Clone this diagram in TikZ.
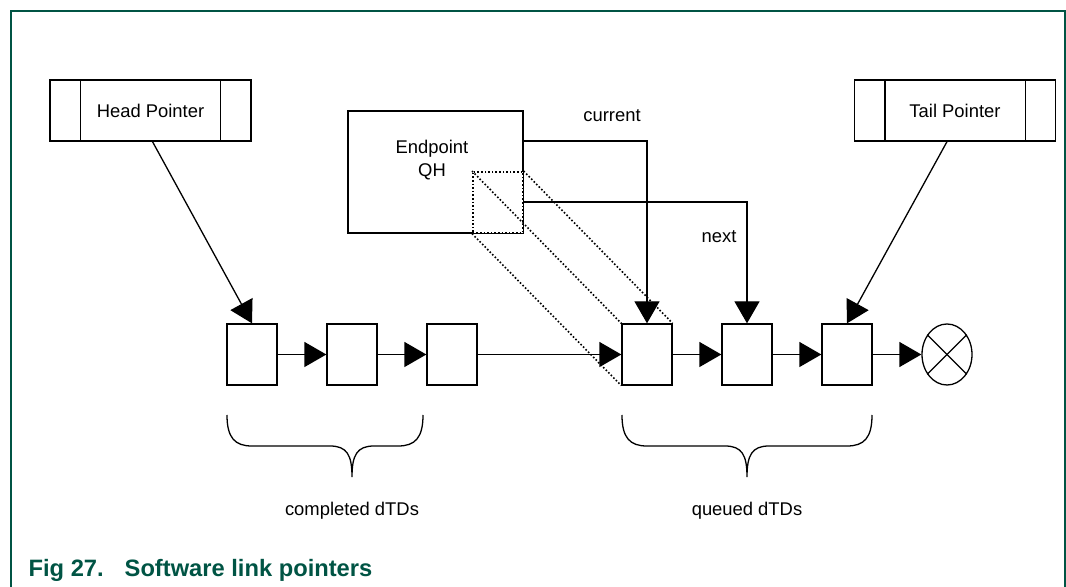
\documentclass[tikz,border=0pt]{standalone}
\usepackage{fontspec}
\setmainfont{Liberation Sans}
\usetikzlibrary{arrows.meta,shapes.geometric}
\definecolor{nxpgreen}{RGB}{0,84,68}
\tikzset{
  dtd/.style={draw, minimum width=25pt, minimum height=30.5pt, inner sep=0pt},
  ptrbox/.style={draw, minimum width=100.5pt, minimum height=30.5pt, inner sep=0pt},
  link/.style={-{Triangle[length=11pt,width=12.5pt]}},
  proj/.style={line width=0.8pt, dash pattern=on 0.8pt off 1pt},
}
% brace: left x, tip x, right x
\newcommand{\dtdbrace}[3]{%
  \draw (#1,415) .. controls (#1,438) and ({#1+8},446) .. ({#1+25},446) -- ({#2-22},446)
    .. controls ({#2-5},446) and (#2,455) .. (#2,477)
    .. controls (#2,455) and ({#2+5},446) .. ({#2+22},446) -- ({#3-25},446)
    .. controls ({#3-8},446) and (#3,438) .. (#3,415);
}

\begin{document}
\begin{tikzpicture}[x=0.5pt, y=-0.5pt, line width=0.65pt, font=\fontsize{9.2}{11.5}\selectfont]
        \useasboundingbox (0,0) rectangle (1066,587);
        % Frame
        \draw[nxpgreen, line width=0.8pt] (11,587) -- (11,11) -- (1065,11) -- (1065,587);

        % Pointers
        \node[ptrbox] (head) at (150.5,110.5) {Head Pointer};
        \node[ptrbox] (tail) at (955,110.5) {Tail Pointer};
        \foreach \p in {head, tail} {
            \draw ([xshift=15.5pt]\p.north west) -- ([xshift=15.5pt]\p.south west);
            \draw ([xshift=-15.5pt]\p.north east) -- ([xshift=-15.5pt]\p.south east);
        }

        % Endpoint QH
        \node[draw, minimum width=87.5pt, minimum height=61pt, inner sep=0pt] (qh) at (435.5,172) {};
        \node[align=center] (qhtext) at (432,160) {Endpoint\\QH};
        \node[dtd, proj, fill=white, anchor=south east] (win) at (qh.south east) {};

        % dTD list
        \foreach \n/\x in {1/252, 2/352, 3/452, 4/647, 5/747, 6/847}
            \node[dtd] (d\n) at (\x,354.5) {};
        \node[draw, ellipse, minimum width=25pt, minimum height=30.5pt, inner sep=0pt] (null) at (947,354.5) {};
        \draw (null.45) -- (null.225);
        \draw (null.135) -- (null.315);

        % Links
        \foreach \a/\b in {d1/d2, d2/d3, d3/d4, d4/d5, d5/d6, d6/null}
            \draw[link] (\a) -- (\b);
        \draw[link] ([xshift=1pt]head.south) -- (d1.north);
        \draw[link] ([xshift=-4pt]tail.south) -- (d6.north);
        \draw[link] ([yshift=15.5pt]qh.east) -| (d4.north);
        \draw[link] ([yshift=-15pt]qh.east) -| (d5.north);
        \node (curlbl) at (612,116) {current};
        \node (nextlbl) at (719,237) {next};

        % Projection of the window
        \draw[proj] (win.north west) -- (d4.north west);
        \draw[proj] (win.north east) -- (d4.north east);
        \draw[proj] (win.south west) -- (d4.south west);

        % Braces
        \dtdbrace{227}{352}{423}
        \dtdbrace{622}{747}{872}
        \node (donelbl) at (352,511) {completed dTDs};
        \node (queuelbl) at (747,511) {queued dTDs};

        % Caption
        \node[anchor=base west, inner sep=0pt, text=nxpgreen, font=\bfseries\fontsize{11.85}{14}\selectfont] (caption) at (28,576) {Fig 27.\hspace{10.5pt}Software link pointers};
    \end{tikzpicture}
\end{document}
